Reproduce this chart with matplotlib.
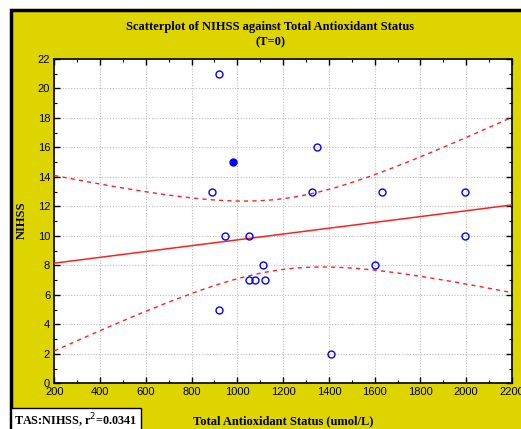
import numpy as np
import matplotlib.pyplot as plt
from matplotlib.patches import Rectangle
from matplotlib.ticker import MultipleLocator

# data
tas = [920, 980, 1346, 889, 1328, 1630, 1995, 948, 1050, 1995,
       1110, 1600, 1050, 1079, 1121, 920, 1407]
nihss = [21, 15, 16, 13, 13, 13, 13, 10, 10, 10,
         8, 8, 7, 7, 7, 5, 2]
filled = [False, True] + [False] * 15

# fitted line and its 95% band
fit_x = [200, 2200]
fit_y = [8.15, 12.1]
band_center = 1200      # x where the band is narrowest
band_half_min = 2.4     # half width there
band_half_end = 5.95    # half width at x = 200 / 2200

x_ticks = [200, 400, 600, 800, 1000, 1200, 1400, 1600, 1800, 2000, 2200]
y_ticks = [0, 2, 4, 6, 8, 10, 12, 14, 16, 18, 20, 22]

YELLOW = "#ddd400"
SERIF = "Liberation Serif"
SANS = "Liberation Sans"

slope = (fit_y[1] - fit_y[0]) / (fit_x[1] - fit_x[0])
xx = np.linspace(fit_x[0], fit_x[1], 200)
yy = fit_y[0] + slope * (xx - fit_x[0])
k2 = (band_half_end ** 2 - band_half_min ** 2) / (fit_x[0] - band_center) ** 2
half = np.sqrt(band_half_min ** 2 + k2 * (xx - band_center) ** 2)

fig = plt.figure(figsize=(5.21, 4.29), dpi=100, facecolor="white")
# yellow panel with black frame, as in the screenshot
fig.patches.append(Rectangle((11 / 521, -0.05), 1.2, (429 - 10) / 429 + 0.05,
                             transform=fig.transFigure, facecolor=YELLOW,
                             edgecolor="black", linewidth=2.5, zorder=-5))

ax = fig.add_axes([54.3 / 521, (429 - 383.3) / 429, (512 - 54.3) / 521, (383.3 - 59) / 429])
ax.set_facecolor("white")

ax.plot(xx, yy, color="#ff2020", lw=1.1, zorder=3)
ax.plot(xx, yy + half, color="#ff2020", lw=1.0, ls=(0, (3, 3)), zorder=3)
ax.plot(xx, yy - half, color="#ff2020", lw=1.0, ls=(0, (3, 3)), zorder=3)

for xi, yi, f in zip(tas, nihss, filled):
    ax.plot(xi, yi, "o", ms=5, mec="#0000ff", mew=1.0,
            mfc="#0000ff" if f else "none", zorder=4)

ax.set_xlim(200, 2200)
ax.set_ylim(0, 22)
ax.set_xticks(x_ticks)
ax.set_yticks(y_ticks)
ax.xaxis.set_minor_locator(MultipleLocator(100))
ax.yaxis.set_minor_locator(MultipleLocator(1))
ax.tick_params(which="both", direction="in", top=True, right=True, color="black")
ax.tick_params(which="major", length=4, width=1, labelsize=8, pad=3)
ax.tick_params(which="minor", length=2, width=0.8)
for lab in ax.get_xticklabels() + ax.get_yticklabels():
    lab.set_fontfamily(SANS)
ax.grid(True, which="major", color="#bdbdbd", ls=(0, (1, 1.5)), lw=0.8)
for side in ax.spines.values():
    side.set_color("black")
    side.set_linewidth(1.2)

fig.text(270 / 521, 1 - 27 / 429, "Scatterplot of NIHSS against Total Antioxidant Status",
         ha="center", va="center", fontsize=9, fontweight="bold", family=SERIF)
fig.text(270 / 521, 1 - 42 / 429, "(T=0)", ha="center", va="center",
         fontsize=9, fontweight="bold", family=SERIF)
fig.text(283 / 521, 1 - 421 / 429, "Total Antioxidant Status (umol/L)",
         ha="center", va="center", fontsize=9, fontweight="bold", family=SERIF)
fig.text(22 / 521, 1 - 220 / 429, "NIHSS", ha="center", va="center", rotation=90,
         fontsize=9, fontweight="bold", family=SERIF)
fig.text(76 / 521, 1 - 421 / 429, "TAS:NIHSS, r$^2$=0.0341", ha="center", va="center",
         fontsize=8.7, fontweight="bold", family=SERIF,
         bbox=dict(boxstyle="square,pad=0.3", facecolor="white", edgecolor="black", lw=1))

fig.savefig("out.png", dpi=100, facecolor=fig.get_facecolor())
